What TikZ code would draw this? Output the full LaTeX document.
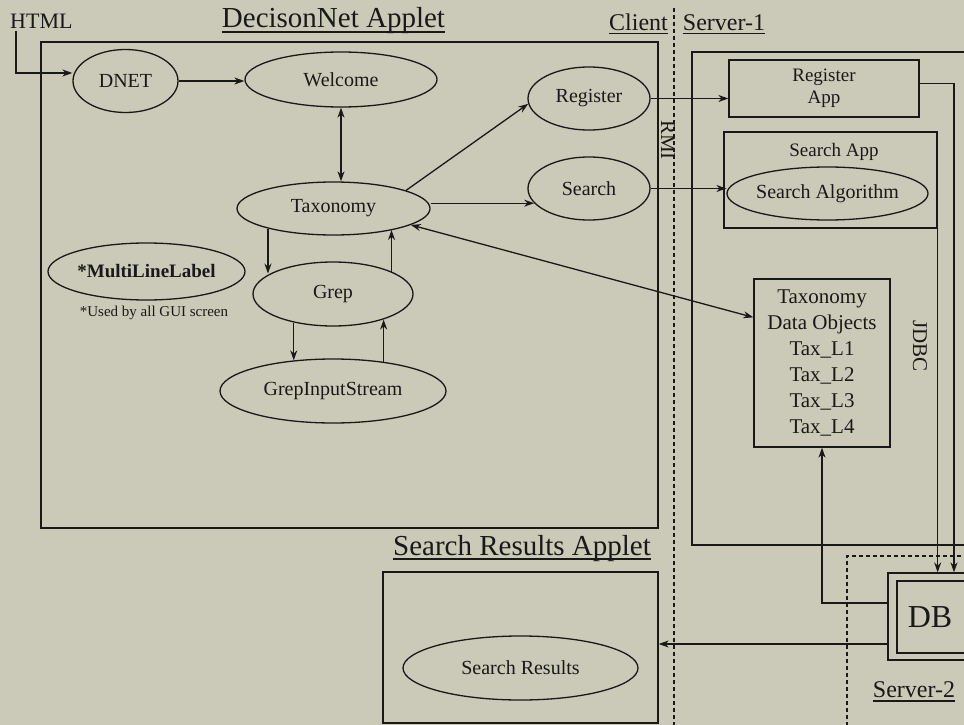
\documentclass[tikz,border=0pt]{standalone}
\usepackage{fontspec}
\setmainfont{Liberation Serif}
\usetikzlibrary{shapes.geometric,arrows.meta,calc}
\definecolor{bg}{RGB}{203,201,184}
\definecolor{ink}{RGB}{25,25,23}
\newcommand{\fsz}[2]{\fontsize{#1}{#2}\selectfont}
\begin{document}
\begin{tikzpicture}[x=1pt,y=-1pt,
  every node/.style={text=ink},
  ell/.style={ellipse,draw=ink,line width=1.3pt,inner xsep=-8pt,inner ysep=0pt,font=\fsz{20}{24}},
  box/.style={rectangle,draw=ink,line width=1.3pt,inner sep=0pt},
  line/.style={draw=ink,line width=1.3pt},
  arr/.style={line,-{Stealth[length=10pt,width=7pt]}},
  darr/.style={line,{Stealth[length=10pt,width=7pt]}-{Stealth[length=10pt,width=7pt]}},
  lbl/.style={inner sep=0pt,font=\fsz{24}{28}},
  ttl/.style={inner sep=0pt,font=\fsz{29}{34}},
  uline/.style={draw=ink,line width=1.3pt},
  sep/.style={draw=ink,line width=1.1pt,dash pattern=on 4pt off 3pt},
]
\useasboundingbox (0,0) rectangle (964,725);
\fill[bg] (0,0) rectangle (964,725);
\clip (0,0) rectangle (964,725);

% containers
\draw[line] (41,42) rectangle (658,528);
\draw[line] (980,52) -- (692,52) -- (692,545) -- (980,545);
\draw[sep] (847,740) -- (847,556) -- (980,556);
\draw[sep] (674,8) -- (674,740);

% titles and labels
\node[inner sep=0pt,font=\fsz{22}{26},anchor=base west] (html) at (10,29) {HTML};
\node[ttl,anchor=base] (t1) at (333.5,28) {DecisonNet Applet};
\draw[uline] ([yshift=-4pt]t1.base west) -- ([yshift=-4pt]t1.base east);
\node[lbl,anchor=base] (client) at (638.5,30.5) {Client};
\draw[uline] ([yshift=-3pt]client.base west) -- ([yshift=-3pt]client.base east);
\node[lbl,anchor=base] (srv1) at (724,30.5) {Server-1};
\draw[uline] ([yshift=-3pt]srv1.base west) -- ([yshift=-3pt]srv1.base east);
\node[ttl,anchor=base] (t2) at (522,555) {Search Results Applet};
\draw[uline] ([yshift=-4pt]t2.base west) -- ([yshift=-4pt]t2.base east);
\node[lbl,anchor=base] (srv2) at (914,697) {Server-2};
\draw[uline] ([yshift=-4pt]srv2.base west) -- ([yshift=-4pt]srv2.base east);
\node[inner sep=0pt,font=\fsz{21}{25},rotate=-90] (rmi) at (668,140) {RMI};
\node[inner sep=0pt,font=\fsz{21}{25},rotate=-90] (jdbc) at (920,346) {JDBC};

% applet nodes
\node[ell,minimum width=105pt,minimum height=63pt] (dnet) at (125.5,81) {DNET};
\node[ell,minimum width=192pt,minimum height=55pt] (welcome) at (341,79.5) {Welcome};
\node[ell,minimum width=193pt,minimum height=53pt] (tax) at (333.5,208.5) {Taxonomy};
\node[ell,minimum width=160pt,minimum height=64pt] (grep) at (333,294) {Grep};
\node[ell,minimum width=226pt,minimum height=64pt] (gis) at (333,391) {GrepInputStream};
\node[ell,minimum width=197pt,minimum height=57pt,font=\bfseries\fsz{19}{23}] (mll) at (146.5,271.5) {*MultiLineLabel};
\node[inner sep=0pt,font=\fsz{15}{18}] (used) at (154,313) {*Used by all GUI screen};
\node[ell,minimum width=122pt,minimum height=63pt] (reg) at (589,98.5) {Register};
\node[ell,minimum width=122pt,minimum height=63pt] (search) at (589,188.5) {Search};

% server-1 nodes
\node[box,minimum width=190pt,minimum height=57pt,align=center,font=\fsz{19}{22}] (regapp) at (824,88.5) {Register\\App};
\node[box,minimum width=213pt,minimum height=96pt] (sapp) at (830.5,180) {};
\node[inner sep=0pt,font=\fsz{19}{22}] (sapplbl) at (834,151.5) {Search App};
\node[ell,minimum width=201pt,minimum height=53pt] (salg) at (827.5,193.5) {Search Algorithm};
\node[box,minimum width=136pt,minimum height=168pt,align=center,font=\fsz{21}{26}] (data) at (822,363) {Taxonomy\\Data Objects\\Tax\_L1\\Tax\_L2\\Tax\_L3\\Tax\_L4};

% server-2
\node[box,minimum width=96pt,minimum height=87pt] (dbo) at (936,616.5) {};
\node[box,minimum width=80pt,minimum height=72pt] (dbi) at (937,617) {};
\node[inner sep=0pt,font=\fsz{32}{38}] (dbt) at (930,617) {DB};

% search results applet
\node[box,minimum width=275pt,minimum height=151pt] (srbox) at (520.5,647.5) {};
\node[ell,minimum width=235pt,minimum height=64pt] (sres) at (520.5,668) {Search Results};

% connectors
\coordinate (hs) at (16,31);
\draw[arr] (hs) |- ([yshift=8pt]dnet.west);
\draw[arr] (dnet.east) -- (dnet.east -| welcome.west);
\draw[darr] (welcome.south) -- (welcome.south |- tax.north);
\draw[arr] (tax.14) -- (reg.185);
\draw[arr] (search.195 -| tax.east) -- (search.195);
\draw[darr] (tax.-12) -- ([yshift=-39pt]data.north west);
\draw[arr] (reg.east) -- (reg.east -| regapp.west);
\draw[arr] (search.east) -- (search.east -| salg.west);
\coordinate (jx) at (954,0);
\draw[arr] ([yshift=5pt]regapp.east) -| (jx |- dbo.north);
\draw[arr] (sapp.south east) -- (sapp.south east |- dbo.north);
\draw[arr] ([yshift=13.5pt]dbo.west) -| (data.south);
\draw[arr] ([yshift=-27.5pt]dbo.west) -- ([yshift=-27.5pt]dbo.west -| srbox.east);
\draw[arr] (tax.197) -- (tax.197 |- grep.162);
\draw[arr] (grep.21) -- (grep.21 |- tax.-20);
\draw[arr] (grep.216) -- (grep.216 |- gis.142);
\draw[arr] (gis.30) -- (gis.30 |- grep.-27);
\end{tikzpicture}
\end{document}
